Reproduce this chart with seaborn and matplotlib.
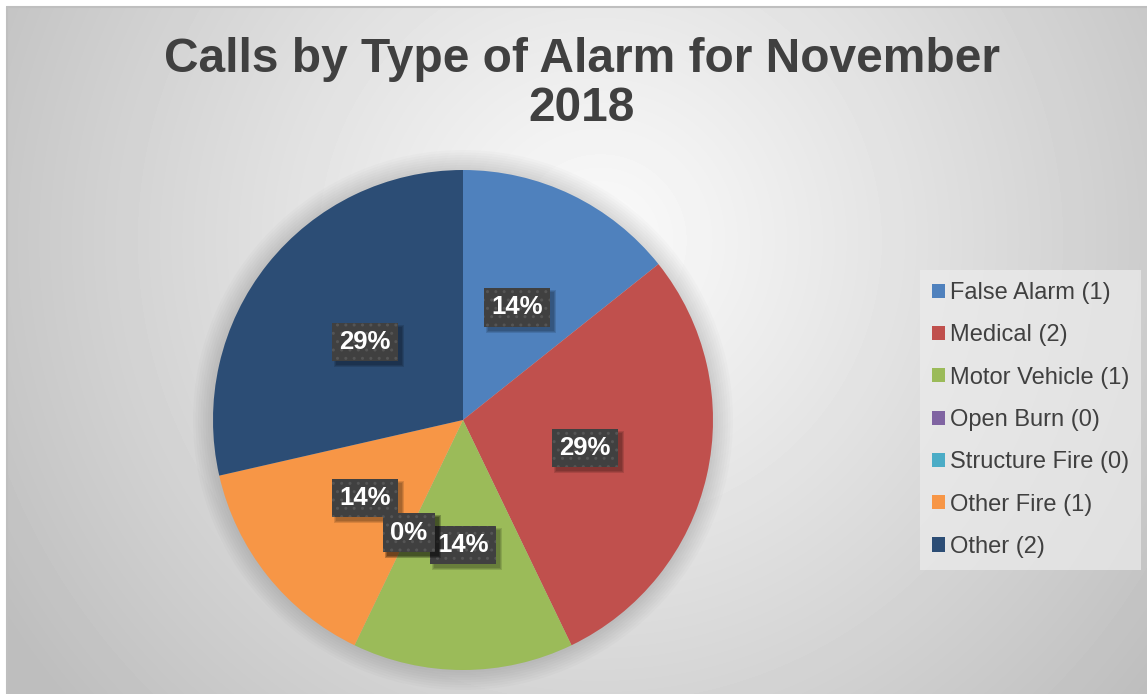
import numpy as np
import matplotlib.pyplot as plt
from matplotlib.patches import Patch, Circle, Rectangle
import seaborn as sns

# data
categories = ['False Alarm', 'Medical', 'Motor Vehicle', 'Open Burn',
              'Structure Fire', 'Other Fire', 'Other']
counts = [1, 2, 1, 0, 0, 1, 2]
colors = ['#4F81BD', '#C0504D', '#9BBB59', '#8064A2', '#4BACC6', '#F79646', '#2C4D75']
title = 'Calls by Type of Alarm for November\n2018'

sns.set_theme(style='white')
plt.rcParams['font.family'] = ['Liberation Sans', 'DejaVu Sans']

W, H = 1147, 694
fig = plt.figure(figsize=(W / 100, H / 100), dpi=100)

# radial grey gradient background like the Excel chart area
bg = fig.add_axes([0, 0, 1, 1])
yy, xx = np.mgrid[0:H, 0:W]
d = np.hypot(xx - 600, yy - 240)
shade = np.clip(250 - 55 * (d / 650) ** 1.1, 190, 252) / 255
bg.imshow(shade, cmap='gray', vmin=0, vmax=1, aspect='auto', extent=(0, W, H, 0))
bg.set_xlim(0, W)
bg.set_ylim(H, 0)
bg.axis('off')
# white margin + grey frame at top/left
bg.add_patch(Rectangle((0, 0), W, 6, color='white', lw=0))
bg.add_patch(Rectangle((0, 0), 6, H, color='white', lw=0))
bg.plot([6.5, 6.5, W], [H, 6.5, 6.5], color='#bfbfbf', lw=1.5)

# pie axes: centre (463, 420) px, radius 250 px
cx, cy, r = 463, 420, 250
ax = fig.add_axes([(cx - r) / W, (H - cy - r) / H, 2 * r / W, 2 * r / H])

# soft halo around the pie
for rr in np.linspace(1.08, 1.0, 9):
    ax.add_patch(Circle((0, 0), rr, color='black', alpha=0.016, lw=0, zorder=0, clip_on=False))

total = sum(counts)
wedges, texts = ax.pie(counts, colors=colors, startangle=90, counterclock=False,
                       wedgeprops=dict(linewidth=0, zorder=1))
ax.set_xlim(-1, 1)
ax.set_ylim(-1, 1)

# percentage label boxes at half radius
labels_drawn = []
theta = 90.0
for v in counts:
    span = 360.0 * v / total
    mid = np.deg2rad(theta - span / 2)
    theta -= span
    z = 7 if v == 0 else 5
    t = ax.text(0.5 * np.cos(mid), 0.5 * np.sin(mid), f'{round(100 * v / total)}%',
                ha='center', va='center', color='white', fontsize=18.5,
                fontweight='bold', zorder=z,
                bbox=dict(boxstyle='square,pad=0.28', fc='#404040', ec='#555555', lw=0,
                          hatch='..'))
    labels_drawn.append((t, z))

fig.text(582 / W, 1 - 84 / H, title, ha='center', va='center', fontsize=34.5,
         fontweight='bold', color='#404040', linespacing=1.13)

handles = [Patch(facecolor=c, edgecolor='none') for c in colors]
labels = [f'{c} ({n})' for c, n in zip(categories, counts)]
leg = fig.legend(handles, labels, loc='center left', bbox_to_anchor=(920 / W, 1 - 420 / H),
                 borderaxespad=0, fontsize=17, frameon=True, fancybox=False,
                 facecolor='#ececec', edgecolor='none', framealpha=0.7,
                 handlelength=0.55, handleheight=0.55, handletextpad=0.2,
                 labelspacing=0.86, borderpad=0.5)
for txt in leg.get_texts():
    txt.set_color('#404040')

# drop shadows behind the label boxes (offset down-right)
fig.canvas.draw()
for t, z in labels_drawn:
    ext = t.get_bbox_patch().get_window_extent()
    for k, a in enumerate([0.12, 0.12, 0.12]):
        grow = 2 - k
        ax.add_patch(Rectangle((ext.x0 + 4 - grow, ext.y0 - 4 - grow),
                               ext.width + 2 * grow, ext.height + 2 * grow,
                               transform=None, fc='black', ec='none', alpha=a,
                               zorder=z - 0.5, clip_on=False))

fig.savefig('out.png', dpi=100)
